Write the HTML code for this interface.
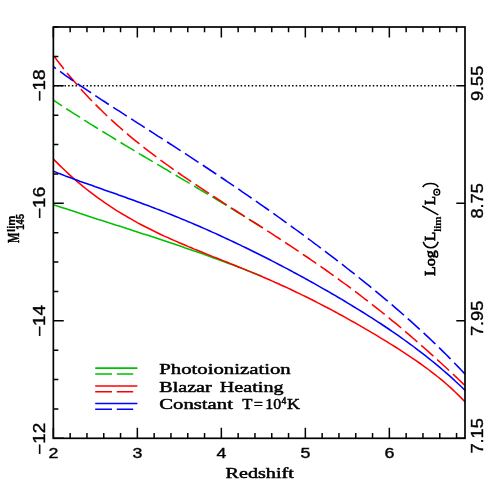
<!DOCTYPE html>
<html><head><meta charset="utf-8"><title>plot</title>
<style>
html,body{margin:0;padding:0;background:#fff;}
svg{display:block;}
text{fill:#000;}
</style></head><body>
<svg width="491" height="491" viewBox="0 0 491 491">
<rect width="491" height="491" fill="#fff"/>
<g fill="none" stroke-width="1.55" stroke-linejoin="round">
<path d="M53.35,85.76 H454.4" stroke="#000" stroke-width="1.6" stroke-dasharray="1.5 2.17" stroke-dashoffset="-0.13"/>
<path d="M53.4,204.7 L56.4,205.7 L59.4,206.7 L62.4,207.7 L65.3,208.6 L68.3,209.6 L71.3,210.6 L74.3,211.6 L77.3,212.6 L80.3,213.6 L83.3,214.5 L86.3,215.5 L89.3,216.5 L92.3,217.4 L95.3,218.4 L98.3,219.4 L101.3,220.3 L104.3,221.3 L107.3,222.3 L110.3,223.2 L113.3,224.2 L116.3,225.2 L119.3,226.1 L122.3,227.1 L125.3,228.0 L128.3,229.0 L131.3,230.0 L134.3,230.9 L137.3,231.9 L140.3,232.9 L143.3,233.9 L146.3,234.8 L149.3,235.8 L152.3,236.8 L155.3,237.8 L158.3,238.8 L161.3,239.8 L164.3,240.8 L167.3,241.8 L170.3,242.8 L173.3,243.8 L176.3,244.8 L179.3,245.8 L182.3,246.8 L185.3,247.9 L188.3,248.9 L191.3,249.9 L194.3,251.0 L197.3,252.0 L200.3,253.1 L203.3,254.1 L206.3,255.2 L209.3,256.3 L212.3,257.4 L215.3,258.5 L218.3,259.6 L221.3,260.7 L224.3,261.8 L227.3,262.9 L230.3,264.0 L233.3,265.1 L236.3,266.3 L239.3,267.4 L242.3,268.6 L245.3,269.8 L248.3,270.9 L251.3,272.1 L254.3,273.3 L257.4,274.5 L260.4,275.7 L262.0,276.4" stroke="#00c000"/>
<path d="M53.4,100.2 L56.4,102.2 L59.4,104.1 L62.4,106.1 L65.3,108.0 L68.3,110.0 L71.3,111.9 L74.3,113.8 L77.3,115.7 L80.3,117.6 L83.3,119.5 L86.3,121.4 L89.3,123.3 L92.3,125.1 L95.3,127.0 L98.3,128.9 L101.3,130.7 L104.3,132.5 L107.3,134.4 L110.3,136.2 L113.3,138.0 L116.3,139.9 L119.3,141.7 L122.3,143.5 L125.3,145.3 L128.3,147.1 L131.3,148.9 L134.3,150.7 L137.3,152.5 L140.3,154.3 L143.3,156.0 L146.3,157.8 L149.3,159.6 L152.3,161.4 L155.3,163.1 L158.3,164.9 L161.3,166.7 L164.3,168.5 L167.3,170.2 L170.3,172.0 L173.3,173.8 L176.3,175.5 L179.3,177.3 L182.3,179.1 L185.3,180.9 L188.3,182.6 L191.3,184.4 L194.3,186.2 L197.3,188.0 L200.3,189.8 L203.3,191.5 L206.3,193.3 L209.3,195.1 L212.3,196.9 L215.3,198.7 L218.3,200.5 L221.3,202.3 L224.3,204.2 L227.3,206.0 L230.3,207.8 L233.3,209.6 L236.3,211.5 L239.3,213.3 L242.3,215.2 L245.3,217.0 L248.3,218.9 L251.3,220.8 L254.3,222.6 L257.4,224.5 L260.4,226.4 L262.0,227.5" stroke="#00c000" stroke-dasharray="16.2 5.15" stroke-dashoffset="6.03"/>
<path d="M53.4,159.0 L56.4,162.1 L59.4,165.1 L62.4,168.0 L65.3,170.8 L68.3,173.6 L71.3,176.3 L74.3,179.0 L77.3,181.6 L80.3,184.1 L83.3,186.6 L86.3,189.0 L89.3,191.3 L92.3,193.6 L95.3,195.9 L98.3,198.1 L101.3,200.2 L104.3,202.3 L107.3,204.4 L110.3,206.4 L113.3,208.3 L116.3,210.3 L119.3,212.1 L122.3,214.0 L125.3,215.7 L128.3,217.5 L131.3,219.2 L134.3,220.9 L137.3,222.6 L140.3,224.2 L143.3,225.7 L146.3,227.3 L149.3,228.8 L152.3,230.3 L155.3,231.8 L158.3,233.2 L161.3,234.7 L164.3,236.1 L167.3,237.4 L170.3,238.8 L173.3,240.1 L176.3,241.4 L179.3,242.7 L182.3,244.0 L185.3,245.3 L188.3,246.6 L191.3,247.8 L194.3,249.1 L197.3,250.3 L200.3,251.5 L203.3,252.7 L206.3,253.9 L209.3,255.1 L212.3,256.4 L215.3,257.6 L218.3,258.7 L221.3,259.9 L224.3,261.1 L227.3,262.3 L230.3,263.6 L233.3,264.8 L236.3,266.0 L239.3,267.2 L242.3,268.4 L245.3,269.6 L248.3,270.9 L251.3,272.1 L254.3,273.4 L257.4,274.6 L260.4,275.9 L263.4,277.2 L266.4,278.5 L269.4,279.8 L272.4,281.1 L275.4,282.5 L278.4,283.8 L281.4,285.2 L284.4,286.5 L287.4,287.9 L290.4,289.3 L293.4,290.7 L296.4,292.2 L299.4,293.6 L302.4,295.1 L305.4,296.5 L308.4,298.0 L311.4,299.5 L314.4,301.0 L317.4,302.6 L320.4,304.1 L323.4,305.7 L326.4,307.2 L329.4,308.8 L332.4,310.4 L335.4,312.0 L338.4,313.7 L341.4,315.3 L344.4,316.9 L347.4,318.6 L350.4,320.3 L353.4,322.0 L356.4,323.7 L359.4,325.4 L362.4,327.1 L365.4,328.9 L368.4,330.6 L371.4,332.4 L374.4,334.1 L377.4,335.9 L380.4,337.8 L383.4,339.6 L386.4,341.4 L389.4,343.3 L392.4,345.1 L395.4,347.0 L398.4,348.9 L401.4,350.9 L404.4,352.8 L407.4,354.8 L410.4,356.8 L413.4,358.8 L416.4,360.9 L419.4,363.0 L422.4,365.1 L425.4,367.3 L428.4,369.5 L431.4,371.8 L434.4,374.1 L437.4,376.5 L440.4,378.9 L443.4,381.4 L446.4,384.0 L449.4,386.6 L452.4,389.4 L455.4,392.2 L458.4,395.1 L461.4,398.1 L464.4,401.3 L465.0,402.0" stroke="#ff0000"/>
<path d="M53.4,55.4 L56.4,59.4 L59.4,63.3 L62.4,67.1 L65.3,70.8 L68.3,74.5 L71.3,78.1 L74.3,81.6 L77.3,85.1 L80.3,88.4 L83.3,91.7 L86.3,95.0 L89.3,98.2 L92.3,101.3 L95.3,104.4 L98.3,107.4 L101.3,110.3 L104.3,113.2 L107.3,116.1 L110.3,118.9 L113.3,121.6 L116.3,124.4 L119.3,127.0 L122.3,129.7 L125.3,132.2 L128.3,134.8 L131.3,137.3 L134.3,139.8 L137.3,142.2 L140.3,144.6 L143.3,147.0 L146.3,149.3 L149.3,151.7 L152.3,153.9 L155.3,156.2 L158.3,158.4 L161.3,160.7 L164.3,162.8 L167.3,165.0 L170.3,167.2 L173.3,169.3 L176.3,171.4 L179.3,173.5 L182.3,175.6 L185.3,177.6 L188.3,179.7 L191.3,181.7 L194.3,183.7 L197.3,185.7 L200.3,187.7 L203.3,189.7 L206.3,191.7 L209.3,193.6 L212.3,195.6 L215.3,197.5 L218.3,199.5 L221.3,201.4 L224.3,203.3 L227.3,205.3 L230.3,207.2 L233.3,209.1 L236.3,211.0 L239.3,213.0 L242.3,214.9 L245.3,216.8 L248.3,218.7 L251.3,220.6 L254.3,222.5 L257.4,224.5 L260.4,226.4 L263.4,228.3 L266.4,230.3 L269.4,232.2 L272.4,234.1 L275.4,236.1 L278.4,238.0 L281.4,240.0 L284.4,242.0 L287.4,244.0 L290.4,245.9 L293.4,247.9 L296.4,249.9 L299.4,251.9 L302.4,254.0 L305.4,256.0 L308.4,258.0 L311.4,260.1 L314.4,262.1 L317.4,264.2 L320.4,266.3 L323.4,268.4 L326.4,270.5 L329.4,272.6 L332.4,274.8 L335.4,276.9 L338.4,279.1 L341.4,281.3 L344.4,283.5 L347.4,285.7 L350.4,287.9 L353.4,290.2 L356.4,292.4 L359.4,294.7 L362.4,297.0 L365.4,299.3 L368.4,301.6 L371.4,303.9 L374.4,306.3 L377.4,308.7 L380.4,311.0 L383.4,313.4 L386.4,315.9 L389.4,318.3 L392.4,320.8 L395.4,323.2 L398.4,325.7 L401.4,328.2 L404.4,330.8 L407.4,333.3 L410.4,335.9 L413.4,338.5 L416.4,341.1 L419.4,343.7 L422.4,346.3 L425.4,349.0 L428.4,351.6 L431.4,354.3 L434.4,357.0 L437.4,359.8 L440.4,362.5 L443.4,365.3 L446.4,368.0 L449.4,370.8 L452.4,373.6 L455.4,376.4 L458.4,379.3 L461.4,382.1 L464.4,385.0 L465.0,385.6" stroke="#ff0000" stroke-dasharray="16.2 5.15" stroke-dashoffset="20.5"/>
<path d="M53.4,171.2 L56.4,172.4 L59.4,173.6 L62.4,174.7 L65.3,175.9 L68.3,177.0 L71.3,178.1 L74.3,179.2 L77.3,180.3 L80.3,181.4 L83.3,182.4 L86.3,183.5 L89.3,184.6 L92.3,185.6 L95.3,186.7 L98.3,187.7 L101.3,188.8 L104.3,189.9 L107.3,190.9 L110.3,192.0 L113.3,193.0 L116.3,194.1 L119.3,195.2 L122.3,196.2 L125.3,197.3 L128.3,198.4 L131.3,199.5 L134.3,200.6 L137.3,201.7 L140.3,202.8 L143.3,203.9 L146.3,205.0 L149.3,206.1 L152.3,207.3 L155.3,208.4 L158.3,209.6 L161.3,210.7 L164.3,211.9 L167.3,213.1 L170.3,214.3 L173.3,215.5 L176.3,216.7 L179.3,217.9 L182.3,219.2 L185.3,220.4 L188.3,221.7 L191.3,222.9 L194.3,224.2 L197.3,225.5 L200.3,226.8 L203.3,228.1 L206.3,229.4 L209.3,230.7 L212.3,232.1 L215.3,233.4 L218.3,234.8 L221.3,236.2 L224.3,237.6 L227.3,239.0 L230.3,240.4 L233.3,241.8 L236.3,243.2 L239.3,244.6 L242.3,246.1 L245.3,247.5 L248.3,249.0 L251.3,250.5 L254.3,252.0 L257.4,253.5 L260.4,255.0 L263.4,256.5 L266.4,258.0 L269.4,259.5 L272.4,261.1 L275.4,262.6 L278.4,264.2 L281.4,265.8 L284.4,267.4 L287.4,268.9 L290.4,270.5 L293.4,272.2 L296.4,273.8 L299.4,275.4 L302.4,277.0 L305.4,278.7 L308.4,280.3 L311.4,282.0 L314.4,283.7 L317.4,285.4 L320.4,287.1 L323.4,288.8 L326.4,290.5 L329.4,292.2 L332.4,294.0 L335.4,295.7 L338.4,297.5 L341.4,299.2 L344.4,301.0 L347.4,302.8 L350.4,304.6 L353.4,306.5 L356.4,308.3 L359.4,310.1 L362.4,312.0 L365.4,313.9 L368.4,315.8 L371.4,317.7 L374.4,319.6 L377.4,321.6 L380.4,323.5 L383.4,325.5 L386.4,327.5 L389.4,329.5 L392.4,331.6 L395.4,333.6 L398.4,335.7 L401.4,337.8 L404.4,340.0 L407.4,342.1 L410.4,344.3 L413.4,346.5 L416.4,348.8 L419.4,351.1 L422.4,353.4 L425.4,355.7 L428.4,358.1 L431.4,360.5 L434.4,362.9 L437.4,365.4 L440.4,367.9 L443.4,370.5 L446.4,373.1 L449.4,375.7 L452.4,378.4 L455.4,381.2 L458.4,384.0 L461.4,386.8 L464.4,389.7 L465.0,390.4" stroke="#0000ff"/>
<path d="M53.4,66.7 L56.4,68.9 L59.4,71.0 L62.4,73.2 L65.3,75.3 L68.3,77.4 L71.3,79.5 L74.3,81.5 L77.3,83.6 L80.3,85.6 L83.3,87.6 L86.3,89.6 L89.3,91.6 L92.3,93.6 L95.3,95.6 L98.3,97.6 L101.3,99.6 L104.3,101.5 L107.3,103.5 L110.3,105.4 L113.3,107.4 L116.3,109.3 L119.3,111.2 L122.3,113.2 L125.3,115.1 L128.3,117.0 L131.3,118.9 L134.3,120.9 L137.3,122.8 L140.3,124.7 L143.3,126.6 L146.3,128.6 L149.3,130.5 L152.3,132.4 L155.3,134.3 L158.3,136.3 L161.3,138.2 L164.3,140.1 L167.3,142.0 L170.3,144.0 L173.3,145.9 L176.3,147.9 L179.3,149.8 L182.3,151.8 L185.3,153.7 L188.3,155.7 L191.3,157.6 L194.3,159.6 L197.3,161.6 L200.3,163.5 L203.3,165.5 L206.3,167.5 L209.3,169.5 L212.3,171.5 L215.3,173.5 L218.3,175.5 L221.3,177.5 L224.3,179.5 L227.3,181.6 L230.3,183.6 L233.3,185.6 L236.3,187.7 L239.3,189.7 L242.3,191.8 L245.3,193.8 L248.3,195.9 L251.3,198.0 L254.3,200.1 L257.4,202.2 L260.4,204.3 L263.4,206.4 L266.4,208.5 L269.4,210.6 L272.4,212.7 L275.4,214.8 L278.4,217.0 L281.4,219.1 L284.4,221.3 L287.4,223.4 L290.4,225.6 L293.4,227.8 L296.4,230.0 L299.4,232.2 L302.4,234.4 L305.4,236.6 L308.4,238.8 L311.4,241.0 L314.4,243.3 L317.4,245.5 L320.4,247.8 L323.4,250.0 L326.4,252.3 L329.4,254.6 L332.4,256.9 L335.4,259.2 L338.4,261.5 L341.4,263.8 L344.4,266.1 L347.4,268.5 L350.4,270.8 L353.4,273.2 L356.4,275.6 L359.4,278.0 L362.4,280.4 L365.4,282.8 L368.4,285.2 L371.4,287.7 L374.4,290.1 L377.4,292.6 L380.4,295.1 L383.4,297.6 L386.4,300.1 L389.4,302.7 L392.4,305.2 L395.4,307.8 L398.4,310.4 L401.4,313.0 L404.4,315.6 L407.4,318.3 L410.4,320.9 L413.4,323.6 L416.4,326.3 L419.4,329.1 L422.4,331.8 L425.4,334.6 L428.4,337.4 L431.4,340.3 L434.4,343.1 L437.4,346.0 L440.4,348.9 L443.4,351.9 L446.4,354.8 L449.4,357.9 L452.4,360.9 L455.4,364.0 L458.4,367.1 L461.4,370.2 L464.4,373.4 L465.0,374.1" stroke="#0000ff" stroke-dasharray="16.2 5.15" stroke-dashoffset="13.14"/>
</g>
<g fill="none" stroke-width="1.55">
<path d="M95.2,368.1 H137.4" stroke="#00c000"/>
<path d="M95.2,374.0 H133.2" stroke="#00c000" stroke-dasharray="16.8 4.8"/>
<path d="M95.2,385.9 H137.4" stroke="#ff0000"/>
<path d="M95.2,391.8 H133.2" stroke="#ff0000" stroke-dasharray="16.8 4.8"/>
<path d="M95.2,403.5 H137.4" stroke="#0000ff"/>
<path d="M95.2,409.2 H133.2" stroke="#0000ff" stroke-dasharray="16.8 4.8"/>
</g>
<g fill="none" stroke="#000" stroke-width="1.7">
<rect x="53.35" y="27.0" width="411.65" height="411.3"/>
<path d="M53.35,438.3 v-10.5 M53.35,27.0 v10.5 M70.15,438.3 v-5.2 M70.15,27.0 v5.2 M86.95,438.3 v-5.2 M86.95,27.0 v5.2 M103.75,438.3 v-5.2 M103.75,27.0 v5.2 M120.55,438.3 v-5.2 M120.55,27.0 v5.2 M137.35,438.3 v-10.5 M137.35,27.0 v10.5 M154.15,438.3 v-5.2 M154.15,27.0 v5.2 M170.95,438.3 v-5.2 M170.95,27.0 v5.2 M187.75,438.3 v-5.2 M187.75,27.0 v5.2 M204.55,438.3 v-5.2 M204.55,27.0 v5.2 M221.35,438.3 v-10.5 M221.35,27.0 v10.5 M238.15,438.3 v-5.2 M238.15,27.0 v5.2 M254.95,438.3 v-5.2 M254.95,27.0 v5.2 M271.75,438.3 v-5.2 M271.75,27.0 v5.2 M288.55,438.3 v-5.2 M288.55,27.0 v5.2 M305.35,438.3 v-10.5 M305.35,27.0 v10.5 M322.15,438.3 v-5.2 M322.15,27.0 v5.2 M338.95,438.3 v-5.2 M338.95,27.0 v5.2 M355.75,438.3 v-5.2 M355.75,27.0 v5.2 M372.55,438.3 v-5.2 M372.55,27.0 v5.2 M389.35,438.3 v-10.5 M389.35,27.0 v10.5 M406.15,438.3 v-5.2 M406.15,27.0 v5.2 M422.95,438.3 v-5.2 M422.95,27.0 v5.2 M439.75,438.3 v-5.2 M439.75,27.0 v5.2 M456.55,438.3 v-5.2 M456.55,27.0 v5.2 M53.35,27.00 h5 M53.35,56.38 h5 M53.35,85.76 h10.4 M465.0,85.76 h-8.7 M53.35,115.14 h5 M53.35,144.51 h5 M53.35,173.89 h5 M53.35,203.27 h10.4 M465.0,203.27 h-8.7 M53.35,232.65 h5 M53.35,262.03 h5 M53.35,291.41 h5 M53.35,320.79 h10.4 M465.0,320.79 h-8.7 M53.35,350.16 h5 M53.35,379.54 h5 M53.35,408.92 h5 M53.35,438.30 h10.4 M465.0,438.30 h-8.7" stroke-width="1.5"/>
</g>
<g font-family="Liberation Sans" stroke="#000" stroke-width="0.38" style="opacity:0.999">
<text transform="translate(45.4,85.45714285714287) rotate(-90)" text-anchor="middle" font-family="Liberation Sans" font-size="15.6" font-weight="normal" textLength="32.2" lengthAdjust="spacingAndGlyphs">−18</text>
<text transform="translate(482.6,83.35714285714286) rotate(-90)" text-anchor="middle" font-family="Liberation Sans" font-size="15.6" font-weight="normal" textLength="35.4" lengthAdjust="spacingAndGlyphs">9.55</text>
<text transform="translate(45.4,202.87142857142857) rotate(-90)" text-anchor="middle" font-family="Liberation Sans" font-size="15.6" font-weight="normal" textLength="32.2" lengthAdjust="spacingAndGlyphs">−16</text>
<text transform="translate(482.6,200.87142857142857) rotate(-90)" text-anchor="middle" font-family="Liberation Sans" font-size="15.6" font-weight="normal" textLength="35.4" lengthAdjust="spacingAndGlyphs">8.75</text>
<text transform="translate(45.4,320.93571428571425) rotate(-90)" text-anchor="middle" font-family="Liberation Sans" font-size="15.6" font-weight="normal" textLength="32.2" lengthAdjust="spacingAndGlyphs">−14</text>
<text transform="translate(482.6,318.3857142857143) rotate(-90)" text-anchor="middle" font-family="Liberation Sans" font-size="15.6" font-weight="normal" textLength="35.4" lengthAdjust="spacingAndGlyphs">7.95</text>
<text transform="translate(45.4,438.8) rotate(-90)" text-anchor="middle" font-family="Liberation Sans" font-size="15.6" font-weight="normal" textLength="32.2" lengthAdjust="spacingAndGlyphs">−12</text>
<text transform="translate(482.6,435.90000000000003) rotate(-90)" text-anchor="middle" font-family="Liberation Sans" font-size="15.6" font-weight="normal" textLength="35.4" lengthAdjust="spacingAndGlyphs">7.15</text>
<text x="53.35" y="458.3" text-anchor="middle" font-family="Liberation Sans" font-size="14.8" textLength="9.9" lengthAdjust="spacingAndGlyphs">2</text>
<text x="137.35" y="458.3" text-anchor="middle" font-family="Liberation Sans" font-size="14.8" textLength="9.9" lengthAdjust="spacingAndGlyphs">3</text>
<text x="221.35" y="458.3" text-anchor="middle" font-family="Liberation Sans" font-size="14.8" textLength="9.9" lengthAdjust="spacingAndGlyphs">4</text>
<text x="305.35" y="458.3" text-anchor="middle" font-family="Liberation Sans" font-size="14.8" textLength="9.9" lengthAdjust="spacingAndGlyphs">5</text>
<text x="389.35" y="458.3" text-anchor="middle" font-family="Liberation Sans" font-size="14.8" textLength="9.9" lengthAdjust="spacingAndGlyphs">6</text>
</g>
<g font-family="Liberation Serif" font-size="15.4" stroke="#000" stroke-width="0.5" stroke-linejoin="round" style="opacity:0.999">
<text x="159.3" y="374.3" textLength="131.4" lengthAdjust="spacingAndGlyphs">Photoionization</text>
<text x="159.3" y="391.8" textLength="52.4" lengthAdjust="spacingAndGlyphs">Blazar</text>
<text x="219.8" y="391.8" textLength="63.8" lengthAdjust="spacingAndGlyphs">Heating</text>
<text x="159.3" y="409.2" textLength="73.6" lengthAdjust="spacingAndGlyphs">Constant</text>
<text x="242.2" y="409.2" textLength="10.2" lengthAdjust="spacingAndGlyphs">T</text>
<text x="253.8" y="409.2" textLength="9.2" lengthAdjust="spacingAndGlyphs">=</text>
<text x="265.2" y="409.2" textLength="16.0" lengthAdjust="spacingAndGlyphs">10</text>
<text x="281.4" y="404.4" textLength="4.8" lengthAdjust="spacingAndGlyphs" font-size="10">4</text>
<text x="287.0" y="409.2" textLength="13.0" lengthAdjust="spacingAndGlyphs">K</text>
<text x="225.6" y="477.6" textLength="68.2" lengthAdjust="spacingAndGlyphs">Redshift</text>
<text transform="translate(19.3,243) rotate(-90)" textLength="10.4" lengthAdjust="spacingAndGlyphs" font-size="16" font-weight="bold" stroke-width="0.45">M</text>
<text transform="translate(15.3,232.0) rotate(-90)" font-family="Liberation Sans" font-weight="bold" font-size="10" stroke-width="0.25" textLength="16.4" lengthAdjust="spacingAndGlyphs">lim</text>
<text transform="translate(24.2,229.7) rotate(-90)" font-family="Liberation Sans" font-weight="bold" font-size="10.3" stroke-width="0.3" textLength="15.8" lengthAdjust="spacingAndGlyphs">145</text>
<text transform="translate(435.3,276.0) rotate(-90)" textLength="25.8" lengthAdjust="spacingAndGlyphs" stroke-width="0.75">Log</text>
<path d="M423.2,241.7 C425.6,249.7 435.8,249.7 438.2,241.7" fill="none" stroke="#000" stroke-width="1.6"/>
<text transform="translate(435.3,240.9) rotate(-90)" textLength="9.2" lengthAdjust="spacingAndGlyphs" stroke-width="0.75">L</text>
<text transform="translate(440.5,231.8) rotate(-90)" textLength="15.4" lengthAdjust="spacingAndGlyphs" font-size="11" font-weight="bold" stroke-width="0.2">lim</text>
<path d="M438.3,214.9 L422.3,206.0" fill="none" stroke="#000" stroke-width="1.5"/>
<text transform="translate(435.3,205.0) rotate(-90)" textLength="9.0" lengthAdjust="spacingAndGlyphs" stroke-width="0.75">L</text>
<circle cx="436.8" cy="192.2" r="2.9" fill="none" stroke="#000" stroke-width="1.4"/><circle cx="436.8" cy="192.2" r="1.0" fill="#000" stroke="none"/>
<path d="M422.8,187.2 C425.2,182.3 435.8,182.3 438.2,187.2" fill="none" stroke="#000" stroke-width="1.6"/>
</g>
</svg>
</body></html>
